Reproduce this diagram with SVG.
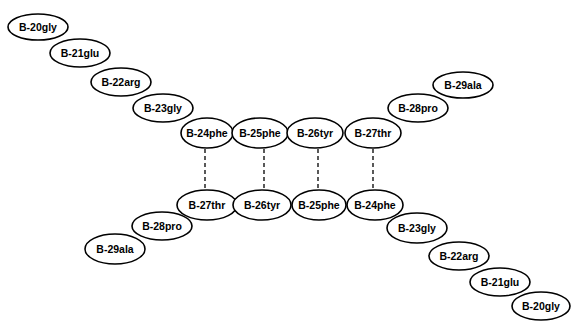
<svg xmlns="http://www.w3.org/2000/svg" width="572" height="321" viewBox="0 0 572 321">
<style>
ellipse{fill:#fff;stroke:#000;stroke-width:1.6}
text{font-family:"Liberation Sans",Arial,sans-serif;font-size:10.5px;font-weight:bold;text-anchor:middle;dominant-baseline:central;fill:#000}
.d{stroke:#000;stroke-width:1.3;stroke-dasharray:4,3;fill:none}
</style>
<rect width="572" height="321" fill="#fff"/>
<g id="connectors">
<line class="d" x1="205" y1="149" x2="205" y2="190"/>
<line class="d" x1="264" y1="149" x2="264" y2="190"/>
<line class="d" x1="318" y1="149" x2="318" y2="190"/>
<line class="d" x1="373" y1="149" x2="373" y2="190"/>
</g>
<g id="t20"><ellipse cx="38" cy="27" rx="30" ry="13"/><text x="38" y="27">B-20gly</text></g>
<g id="t21"><ellipse cx="80" cy="53" rx="30" ry="14"/><text x="80" y="53">B-21glu</text></g>
<g id="t22"><ellipse cx="121" cy="82" rx="30" ry="14"/><text x="121" y="82">B-22arg</text></g>
<g id="t23"><ellipse cx="163" cy="108" rx="30" ry="14"/><text x="163" y="108">B-23gly</text></g>
<g id="t24"><ellipse cx="207" cy="133" rx="26" ry="15"/><text x="207" y="133">B-24phe</text></g>
<g id="t25"><ellipse cx="260" cy="133" rx="28" ry="15"/><text x="260" y="133">B-25phe</text></g>
<g id="t26"><ellipse cx="315" cy="133" rx="28" ry="15"/><text x="315" y="133">B-26tyr</text></g>
<g id="t27"><ellipse cx="373" cy="133" rx="28" ry="15"/><text x="373" y="133">B-27thr</text></g>
<g id="t28"><ellipse cx="418" cy="108" rx="30" ry="14"/><text x="418" y="108">B-28pro</text></g>
<g id="t29"><ellipse cx="463" cy="85" rx="30" ry="13"/><text x="463" y="85">B-29ala</text></g>
<g id="u29"><ellipse cx="115" cy="249" rx="30" ry="15"/><text x="115" y="249">B-29ala</text></g>
<g id="u28"><ellipse cx="162" cy="226" rx="30" ry="14"/><text x="162" y="226">B-28pro</text></g>
<g id="u27"><ellipse cx="207" cy="205" rx="30" ry="15"/><text x="207" y="205">B-27thr</text></g>
<g id="u26"><ellipse cx="262" cy="205" rx="29" ry="15"/><text x="262" y="205">B-26tyr</text></g>
<g id="u25"><ellipse cx="319" cy="205" rx="27" ry="15"/><text x="319" y="205">B-25phe</text></g>
<g id="u24"><ellipse cx="375" cy="205" rx="28" ry="15"/><text x="375" y="205">B-24phe</text></g>
<g id="u23"><ellipse cx="417" cy="228" rx="30" ry="15"/><text x="417" y="228">B-23gly</text></g>
<g id="u22"><ellipse cx="459" cy="256" rx="30" ry="14"/><text x="459" y="256">B-22arg</text></g>
<g id="u21"><ellipse cx="500" cy="282" rx="30" ry="14"/><text x="500" y="282">B-21glu</text></g>
<g id="u20"><ellipse cx="541" cy="306" rx="29" ry="14"/><text x="541" y="306">B-20gly</text></g>
</svg>
